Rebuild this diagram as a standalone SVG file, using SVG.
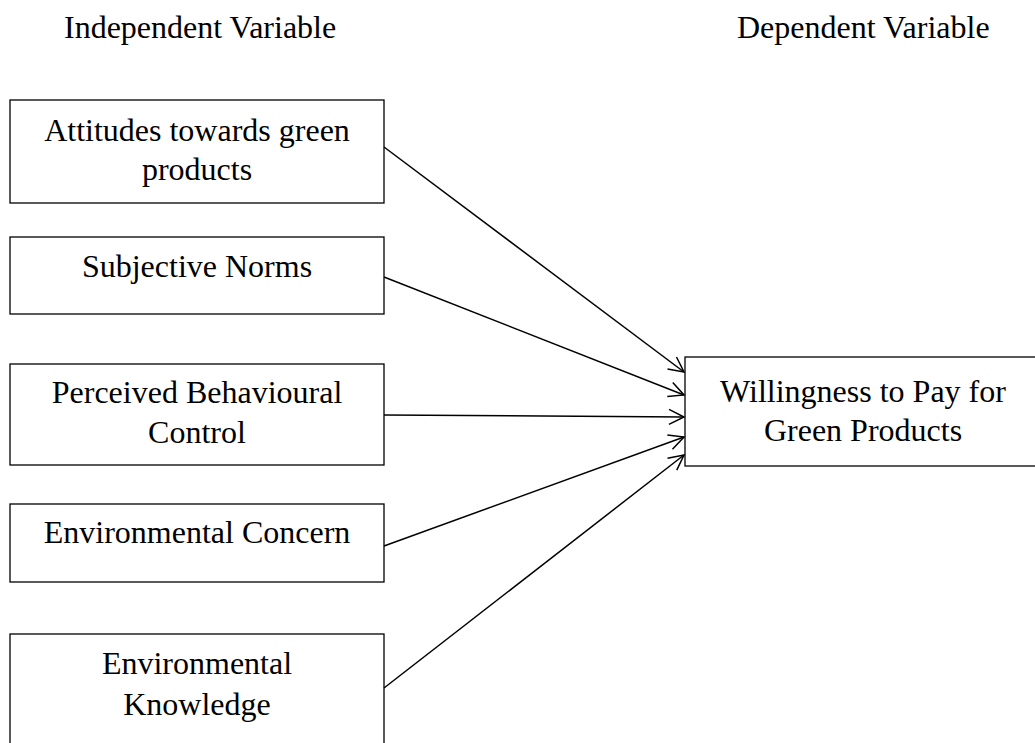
<svg xmlns="http://www.w3.org/2000/svg" width="1035" height="743" viewBox="0 0 1035 743">
<style>
text{font-family:"Liberation Serif","Times New Roman",serif;font-size:32px;fill:#000}
.c{text-anchor:middle}
.box{fill:#fff;stroke:#000;stroke-width:1.3}
.ln{stroke:#000;stroke-width:1.5;fill:none}
</style>
<defs>
<marker id="ah" markerUnits="userSpaceOnUse" markerWidth="20" markerHeight="20" viewBox="-16 -10 20 20" refX="0" refY="0" orient="auto">
<path d="M-15,-7.5 L0,0 L-15,7.5" fill="none" stroke="#000" stroke-width="1.5"/>
</marker>
</defs>
<rect width="1035" height="743" fill="#fff"/>
<g id="headers">
<text x="64" y="38">Independent Variable</text>
<text x="737" y="38">Dependent Variable</text>
</g>
<g id="n1"><rect class="box" x="10" y="100" width="374" height="103"/>
<text class="c" x="197" y="141">Attitudes towards green</text><text class="c" x="197" y="180">products</text></g>
<g id="n2"><rect class="box" x="10" y="237" width="374" height="77"/>
<text class="c" x="197" y="277">Subjective Norms</text></g>
<g id="n3"><rect class="box" x="10" y="364" width="374" height="101"/>
<text class="c" x="197" y="403">Perceived Behavioural</text><text class="c" x="197" y="443">Control</text></g>
<g id="n4"><rect class="box" x="10" y="504" width="374" height="78"/>
<text class="c" x="197" y="543">Environmental Concern</text></g>
<g id="n5"><rect class="box" x="10" y="634" width="374" height="130"/>
<text class="c" x="197" y="674">Environmental</text><text class="c" x="197" y="715">Knowledge</text></g>
<g id="target"><rect class="box" x="685" y="357" width="356" height="109"/>
<text class="c" x="863" y="402">Willingness to Pay for</text><text class="c" x="863" y="441">Green Products</text></g>
<g id="connectors">
<line class="ln" x1="384" y1="147" x2="684" y2="372" marker-end="url(#ah)"/>
<line class="ln" x1="384" y1="277" x2="684" y2="395" marker-end="url(#ah)"/>
<line class="ln" x1="384" y1="415" x2="684" y2="417" marker-end="url(#ah)"/>
<line class="ln" x1="384" y1="546" x2="684" y2="437" marker-end="url(#ah)"/>
<line class="ln" x1="384" y1="688" x2="684" y2="455" marker-end="url(#ah)"/>
</g>
</svg>
